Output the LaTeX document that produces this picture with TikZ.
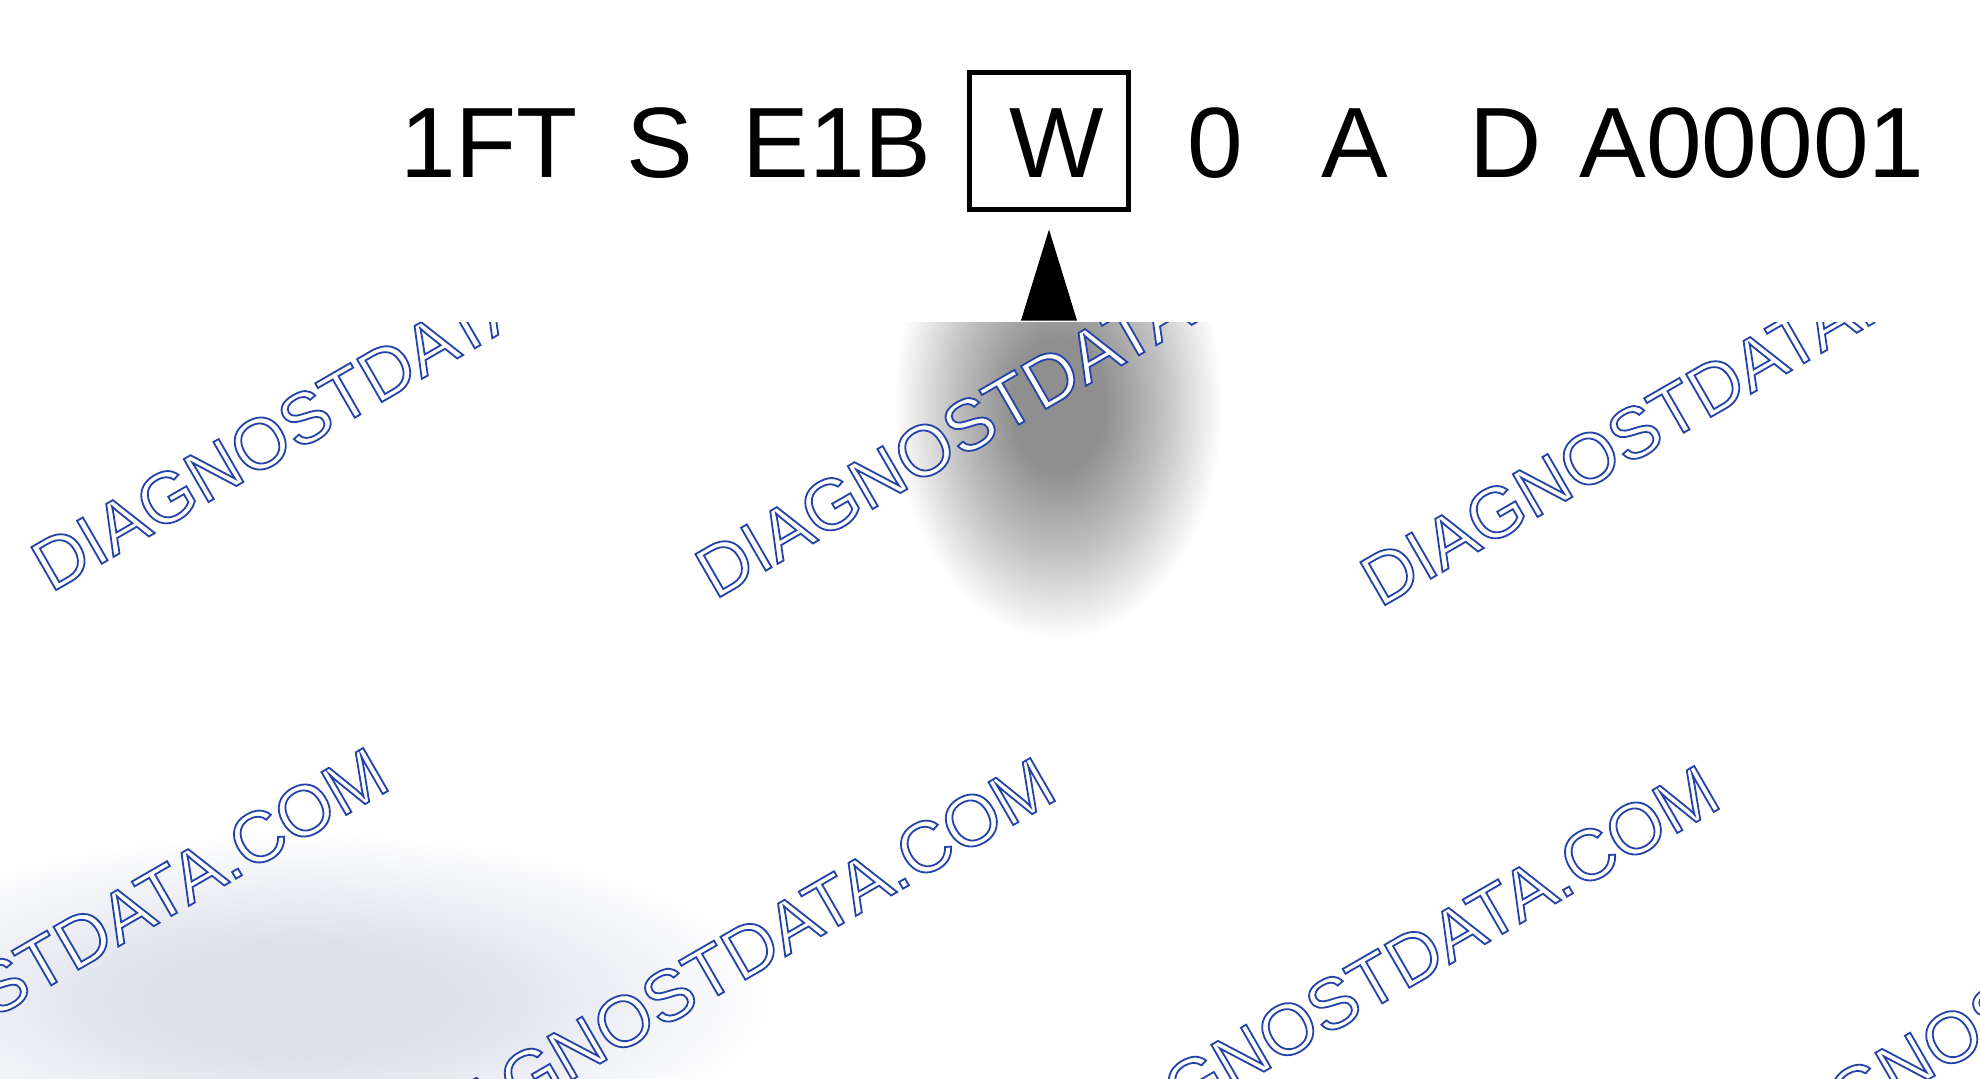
\documentclass[tikz,border=0pt]{standalone}
\usepackage{fontspec}
\setmainfont{Liberation Sans}
\usepackage{tikz}
\usetikzlibrary{positioning}

\definecolor{wmblue}{HTML}{2443A8}
\colorlet{blurcore}{black!44}
\colorlet{blurmid}{black!24}
\definecolor{blurblue}{HTML}{DCE0EA}
\pgfdeclareradialshading{arrowblur}{\pgfpoint{0bp}{0bp}}{color(0bp)=(blurcore); color(7bp)=(blurcore); color(16bp)=(blurmid); color(25bp)=(white); color(50bp)=(white)}
\pgfdeclareradialshading{cornerblur}{\pgfpoint{0bp}{0bp}}{color(0bp)=(blurblue); color(8bp)=(blurblue); color(25bp)=(white); color(50bp)=(white)}

% outlined watermark text, white inside
\newcommand\wmtext{\special{pdf:literal direct 2 Tr 0.9 w 1 g}DIAGNOSTDATA.COM\special{pdf:literal direct 0 Tr 0.4 w}}

\begin{document}
\begin{tikzpicture}[x=0.5pt,y=-0.5pt]
\tikzstyle{every node}=[inner sep=0pt,outer sep=0pt]
\tikzstyle{vin}=[anchor=base,font=\fontsize{50}{60}\selectfont]
\tikzstyle{wm}=[font=\fontsize{36}{40}\selectfont,text=wmblue,rotate=30]

\useasboundingbox (0,0) rectangle (1980,1078);
\fill[white] (0,0) rectangle (1980,1078);

% blurred spots
\shade[shading=arrowblur] (1058,405) ellipse (165 and 235);
\shade[shading=cornerblur] (300,1000) ellipse (480 and 170);

% watermark
\foreach \x/\y in {51/593,715/600,1380/608}
  \node[wm,anchor=base west] at (\x,\y) {\wmtext};
\foreach \x/\y in {393/788,1060/798,1724/806,2388/814}
  \node[wm,anchor=base east] at (\x,\y) {\wmtext};
\fill[white] (0,0) rectangle (1980,322);

% vin code
\node[vin] (wmi) at (489,177) {1FT};
\node[vin] (restraint) at (660,177) {S};
\node[vin] (series) at (837,177) {E1B};
\node[vin] (model) at (1057,177) {W};
\node[vin] (check) at (1215,177) {0};
\node[vin] (year) at (1355,177) {A};
\node[vin] (plant) at (1506,177) {D};
\node[vin] (serial) at (1752,177) {A00001};

\node[draw,line width=2.5pt,minimum width=79.5pt,minimum height=68.5pt] (wbox) at (1049,141) {};
\coordinate (tip) at ([yshift=-10pt]wbox.south);
\fill (tip) -- ++(-14pt,-45.5pt) -- ++(28pt,0) -- cycle;

\end{tikzpicture}
\end{document}
